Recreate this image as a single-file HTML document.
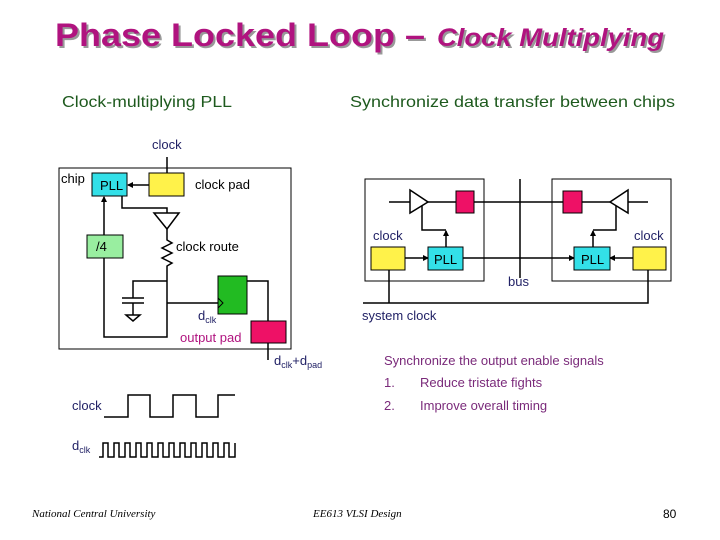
<!DOCTYPE html>
<html><head><meta charset="utf-8"><style>
html,body{margin:0;padding:0;background:#fff}
svg{display:block}
.s{font-family:"Liberation Sans",sans-serif}
.f{font-family:"Liberation Serif",serif;font-style:italic}
</style></head><body>
<svg width="720" height="540" viewBox="0 0 720 540" xmlns="http://www.w3.org/2000/svg" class="s">
<defs>
<marker id="a" markerWidth="6" markerHeight="6" refX="5" refY="3" orient="auto" markerUnits="userSpaceOnUse"><path d="M0,0 L6,3 L0,6 z" fill="#000"/></marker>
</defs>
<!-- title -->
<g font-weight="bold">
<text x="57" y="48" font-size="32" fill="#999" textLength="370" lengthAdjust="spacingAndGlyphs">Phase Locked Loop –</text>
<text x="55" y="46" font-size="32" fill="#b0137f" textLength="370" lengthAdjust="spacingAndGlyphs">Phase Locked Loop –</text>
<text x="439" y="48" font-size="25" font-style="italic" fill="#999" textLength="227" lengthAdjust="spacingAndGlyphs">Clock Multiplying</text>
<text x="437" y="46" font-size="25" font-style="italic" fill="#b0137f" textLength="227" lengthAdjust="spacingAndGlyphs">Clock Multiplying</text>
</g>
<text x="62" y="107" font-size="16" fill="#1e5a1e" textLength="170" lengthAdjust="spacingAndGlyphs">Clock-multiplying PLL</text>
<text x="350" y="107" font-size="16" fill="#1e5a1e" textLength="325" lengthAdjust="spacingAndGlyphs">Synchronize data transfer between chips</text>

<g stroke="#000" stroke-width="1.5" fill="none">
<rect x="59" y="168" width="232" height="181" stroke-width="1"/>
<line x1="167" y1="157" x2="167" y2="173"/>
<line x1="149" y1="185" x2="128" y2="185" marker-end="url(#a)"/>
<polyline points="122,196 122,208 167,208 167,213"/>
<polygon points="154,213 179,213 167,229" fill="#fff"/>
<polyline points="167,229 167,240 172,243 162,248 172,253 162,258 172,263 167,266 167,337 104,337 104,258"/>
<line x1="104" y1="235" x2="104" y2="197" marker-end="url(#a)"/>
<polyline points="167,281 133,281 133,298"/>
<line x1="122" y1="298" x2="144" y2="298"/>
<line x1="122" y1="303" x2="144" y2="303"/>
<line x1="133" y1="303" x2="133" y2="315"/>
<polygon points="126,315 140,315 133,321" />
<line x1="167" y1="303" x2="218" y2="303"/>
<polyline points="247,281 268,281 268,321"/>
<line x1="268" y1="343" x2="268" y2="360"/>
</g>
<rect x="92" y="173" width="35" height="23" fill="#33e0e8" stroke="#000"/>
<rect x="149" y="173" width="35" height="23" fill="#fff24a" stroke="#000"/>
<rect x="87" y="235" width="36" height="23" fill="#99eea0" stroke="#000"/>
<rect x="218" y="276" width="29" height="38" fill="#22bb22" stroke="#000"/>
<polyline points="218,298 223,303 218,308" fill="none" stroke="#000"/>
<rect x="251" y="321" width="35" height="22" fill="#ee1166" stroke="#000"/>
<g font-size="13">
<text x="152" y="149" fill="#222266">clock</text>
<text x="61" y="183" fill="#000">chip</text>
<text x="100" y="190" fill="#000">PLL</text>
<text x="195" y="189" fill="#000">clock pad</text>
<text x="96" y="251" fill="#000">/4</text>
<text x="176" y="251" fill="#000">clock route</text>
<text x="198" y="320" fill="#222266">d<tspan font-size="9" dy="3">clk</tspan></text>
<text x="180" y="342" fill="#b0137f">output pad</text>
<text x="274" y="365" fill="#222266">d<tspan font-size="9" dy="3">clk</tspan><tspan dy="-3">+d</tspan><tspan font-size="9" dy="3">pad</tspan></text>
</g>

<g stroke="#000" stroke-width="1.5" fill="none">
<rect x="365" y="179" width="119" height="102" stroke-width="1"/>
<rect x="552" y="179" width="119" height="102" stroke-width="1"/>
<line x1="520" y1="179" x2="520" y2="278"/>
<line x1="389" y1="202" x2="648" y2="202"/>
<polygon points="410,190 428,202 410,213" fill="#fff"/>
<polygon points="628,190 610,202 628,213" fill="#fff"/>
<polyline points="422,206 422,230 446,230"/>
<line x1="446" y1="247" x2="446" y2="231" marker-end="url(#a)" />
<polyline points="616,206 616,230 593,230"/>
<line x1="593" y1="247" x2="593" y2="231" marker-end="url(#a)"/>
<line x1="405" y1="258" x2="428" y2="258" marker-end="url(#a)"/>
<line x1="463" y1="258" x2="574" y2="258" marker-end="url(#a)"/>
<line x1="633" y1="258" x2="610" y2="258" marker-end="url(#a)"/>
<polyline points="389,270 389,303"/>
<polyline points="363,303 648,303 648,270"/>
</g>
<rect x="456" y="191" width="18" height="22" fill="#ee1166" stroke="#000"/>
<rect x="563" y="191" width="19" height="22" fill="#ee1166" stroke="#000"/>
<rect x="428" y="247" width="35" height="23" fill="#33e0e8" stroke="#000"/>
<rect x="574" y="247" width="36" height="23" fill="#33e0e8" stroke="#000"/>
<rect x="371" y="247" width="34" height="23" fill="#fff24a" stroke="#000"/>
<rect x="633" y="247" width="33" height="23" fill="#fff24a" stroke="#000"/>
<g font-size="13">
<text x="373" y="240" fill="#222266">clock</text>
<text x="634" y="240" fill="#222266">clock</text>
<text x="434" y="264" fill="#000">PLL</text>
<text x="581" y="264" fill="#000">PLL</text>
<text x="508" y="286" fill="#222266">bus</text>
<text x="362" y="320" fill="#222266">system clock</text>
</g>
<g font-size="13" fill="#7a2a7a">
<text x="384" y="365">Synchronize the output enable signals</text>
<text x="384" y="387">1.</text><text x="420" y="387">Reduce tristate fights</text>
<text x="384" y="410">2.</text><text x="420" y="410">Improve overall timing</text>
</g>
<g stroke="#000" stroke-width="1.5" fill="none">
<polyline points="104,417 128,417 128,395 150,395 150,417 173,417 173,395 196,395 196,417 218,417 218,395 235,395"/>
<polyline points="99,457 103,457 103,443 108,443 108,457 114,457 114,443 119,443 119,457 125,457 125,443 130,443 130,457 136,457 136,443 141,443 141,457 147,457 147,443 152,443 152,457 158,457 158,443 163,443 163,457 169,457 169,443 174,443 174,457 180,457 180,443 185,443 185,457 191,457 191,443 196,443 196,457 202,457 202,443 207,443 207,457 213,457 213,443 218,443 218,457 224,457 224,443 229,443 229,457 235,457 235,443"/>
</g>
<text x="72" y="410" font-size="13" fill="#222266">clock</text>
<text x="72" y="450" font-size="13" fill="#222266">d<tspan font-size="9" dy="3">clk</tspan></text>
<text x="32" y="517" font-size="11" fill="#000" class="f">National Central University</text>
<text x="313" y="517" font-size="11" fill="#000" class="f">EE613 VLSI Design</text>
<text x="663" y="518" font-size="12" fill="#000">80</text>
</svg>
</body></html>
